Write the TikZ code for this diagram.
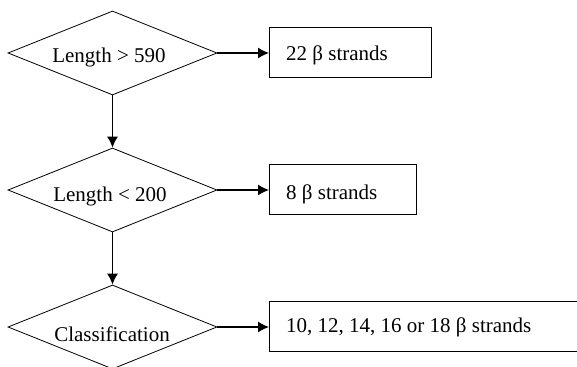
\documentclass[tikz,border=0pt]{standalone}
\usepackage{fontspec}
\setmainfont{Liberation Serif}
\usetikzlibrary{shapes.geometric,arrows.meta}
\tikzset{
  dia/.style={draw, diamond, line width=0.8pt, inner sep=0pt, minimum width=209pt, minimum height=84pt},
  lbl/.style={inner sep=0pt, anchor=base, font=\fontsize{21}{25}\selectfont},
  rlbl/.style={inner sep=0pt, anchor=base west, font=\fontsize{21}{25}\selectfont},
  res/.style={draw, rectangle, line width=0.8pt, anchor=west, inner sep=0pt, minimum height=50pt},
  conn/.style={line width=1.2pt, -{Latex[length=11pt,width=11pt]}}
}
\begin{document}
\begin{tikzpicture}[x=1pt,y=-1pt]
\useasboundingbox (0,0) rectangle (577,366);
\node[dia] (d1) at (112.5,53) {};
\node[lbl] (t1) at (109,63) {Length > 590};
\node[dia] (d2) at (112.5,190) {};
\node[lbl] (t2) at (110,201) {Length < 200};
\node[dia] (d3) at (112.5,327) {};
\node[lbl] (t3) at (112,341) {Classification};
\node[res, minimum width=162pt] (b1) at (269,52) {};
\node[rlbl] (r1) at (286,61) {22 β strands};
\node[res, minimum width=147pt] (b2) at (269,189.5) {};
\node[rlbl] (r2) at (286,199) {8 β strands};
\node[res, minimum width=330pt] (b3) at (269,326.5) {};
\node[rlbl] (r3) at (286,332) {10, 12, 14, 16 or 18 β strands};
\draw[conn] (d1.east) -- (b1.west |- d1.east);
\draw[conn] (d2.east) -- (b2.west |- d2.east);
\draw[conn] (d3.east) -- (b3.west |- d3.east);
\draw[conn] (d1.south) -- (d2.north);
\draw[conn] (d2.south) -- (d3.north);
\end{tikzpicture}
\end{document}
